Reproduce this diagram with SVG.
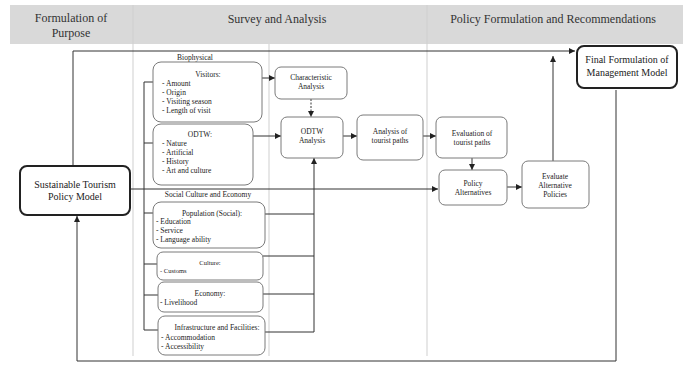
<svg xmlns="http://www.w3.org/2000/svg" width="683" height="365" viewBox="0 0 683 365" font-family="'Liberation Serif', 'DejaVu Serif', 'Times New Roman', serif">
<style>
text{font-family:"Liberation Serif","DejaVu Serif","Times New Roman",serif;fill:#222}
.hd{font-size:12px;text-anchor:middle;fill:#333}
.col{stroke:#cfcfcf;stroke-width:1;fill:none}
.box{fill:#fff;stroke:#7a7a7a;stroke-width:1}
.bold{fill:#fff;stroke:#222;stroke-width:2}
.t{font-size:7.5px;text-anchor:middle}
.l{font-size:7.5px}
.s{font-size:6.5px}
.big{font-size:10px;text-anchor:middle}
.c{fill:none;stroke:#333;stroke-width:1}
.ca{fill:none;stroke:#333;stroke-width:1;marker-end:url(#ah)}
</style>
<defs>
<marker id="ah" viewBox="0 0 8 8" refX="8" refY="4" markerWidth="6" markerHeight="6" markerUnits="userSpaceOnUse" orient="auto">
<path d="M0,0 L8,4 L0,8 z" fill="#222"/>
</marker>
</defs>
<rect x="0" y="0" width="683" height="365" fill="#fff"/>
<g id="header">
<rect x="10" y="5" width="673" height="39" fill="#d9d9d9"/>
<text class="hd" x="71" y="22">Formulation of</text>
<text class="hd" x="71" y="37">Purpose</text>
<text class="hd" x="277" y="23">Survey and Analysis</text>
<text class="hd" x="553" y="23">Policy Formulation and Recommendations</text>
</g>
<g id="columns">
<line class="col" x1="133" y1="5" x2="133" y2="356"/>
<line class="col" x1="269" y1="44" x2="269" y2="356"/>
<line class="col" x1="427" y1="5" x2="427" y2="356"/>
</g>
<g id="connectors">
<path class="ca" d="M73,166 V51 H575"/>
<path class="ca" d="M616,90 V361 H77 V216"/>
<path class="ca" d="M130,189 H438"/>
<path class="c" d="M153,82 H144 V330 H158 M144,143 H153 M144,213 H153 M144,264 H157 M144,295 H158"/>
<path class="ca" d="M262,78 H275"/>
<path class="ca" d="M311,99 V117" stroke-dasharray="2,1.5"/>
<path class="ca" d="M253,136 H281"/>
<path class="ca" d="M343,136 H357"/>
<path class="ca" d="M423,136 H436"/>
<path class="ca" d="M472,158 V170"/>
<path class="ca" d="M507,187 H522"/>
<path class="ca" d="M553,161 V56"/>
<path class="c" d="M265,214 H314 M263,256 H314 M263,294 H314 M265,332 H314"/>
<path class="ca" d="M314,332 V158"/>
</g>
<g id="sustainable">
<rect class="bold" x="20" y="166" width="110" height="49" rx="7"/>
<text class="big" x="75" y="188">Sustainable Tourism</text>
<text class="big" x="75" y="200">Policy Model</text>
</g>
<g id="final">
<rect class="bold" x="577" y="46" width="100" height="42" rx="7"/>
<text class="big" x="627" y="63">Final Formulation of</text>
<text class="big" x="627" y="76">Management Model</text>
</g>
<g id="labels">
<text class="t" x="195" y="60">Biophysical</text>
<text class="t" x="208" y="197">Social Culture and Economy</text>
</g>
<g id="visitors">
<rect class="box" x="153" y="62" width="109" height="60" rx="8"/>
<text class="t" x="208" y="77">Visitors:</text>
<text class="l" x="162" y="86">- Amount</text>
<text class="l" x="162" y="95">- Origin</text>
<text class="l" x="162" y="104">- Visiting season</text>
<text class="l" x="162" y="113">- Length of visit</text>
</g>
<g id="odtw">
<rect class="box" x="153" y="124" width="100" height="61" rx="8"/>
<text class="t" x="200" y="137">ODTW:</text>
<text class="l" x="162" y="146">- Nature</text>
<text class="l" x="162" y="155">- Artificial</text>
<text class="l" x="162" y="164">- History</text>
<text class="l" x="162" y="173">- Art and culture</text>
</g>
<g id="population">
<rect class="box" x="153" y="202" width="112" height="46" rx="8"/>
<text class="t" x="212" y="216">Population (Social):</text>
<text class="l" x="156" y="224">- Education</text>
<text class="l" x="156" y="233">- Service</text>
<text class="l" x="156" y="242">- Language ability</text>
</g>
<g id="culture">
<rect class="box" x="157" y="252" width="106" height="28" rx="6"/>
<text class="t s" x="210" y="265">Culture:</text>
<text class="l s" x="160" y="273">- Customs</text>
</g>
<g id="economy">
<rect class="box" x="158" y="282" width="105" height="30" rx="6"/>
<text class="t" x="210" y="296">Economy:</text>
<text class="l" x="160" y="305">- Livelihood</text>
</g>
<g id="infrastructure">
<rect class="box" x="158" y="316" width="107" height="39" rx="7"/>
<text class="t" x="217" y="330">Infrastructure and Facilities:</text>
<text class="l" x="161" y="340">- Accommodation</text>
<text class="l" x="161" y="349">- Accessibility</text>
</g>
<g id="characteristic">
<rect class="box" x="275" y="67" width="72" height="32" rx="6"/>
<text class="t" x="311" y="80">Characteristic</text>
<text class="t" x="311" y="89">Analysis</text>
</g>
<g id="odtw-analysis">
<rect class="box" x="281" y="117" width="62" height="41" rx="6"/>
<text class="t" x="312" y="134">ODTW</text>
<text class="t" x="312" y="143">Analysis</text>
</g>
<g id="analysis-paths">
<rect class="box" x="357" y="115" width="66" height="45" rx="6"/>
<text class="t" x="390" y="134">Analysis of</text>
<text class="t" x="390" y="143">tourist paths</text>
</g>
<g id="evaluation-paths">
<rect class="box" x="436" y="117" width="71" height="41" rx="6"/>
<text class="t" x="472" y="136">Evaluation of</text>
<text class="t" x="472" y="145">tourist paths</text>
</g>
<g id="policy-alternatives">
<rect class="box" x="439" y="170" width="68" height="35" rx="6"/>
<text class="t" x="473" y="186">Policy</text>
<text class="t" x="473" y="195">Alternatives</text>
</g>
<g id="evaluate-alternatives">
<rect class="box" x="522" y="161" width="67" height="47" rx="6"/>
<text class="t" x="555" y="179">Evaluate</text>
<text class="t" x="555" y="188">Alternative</text>
<text class="t" x="555" y="197">Policies</text>
</g>
</svg>
